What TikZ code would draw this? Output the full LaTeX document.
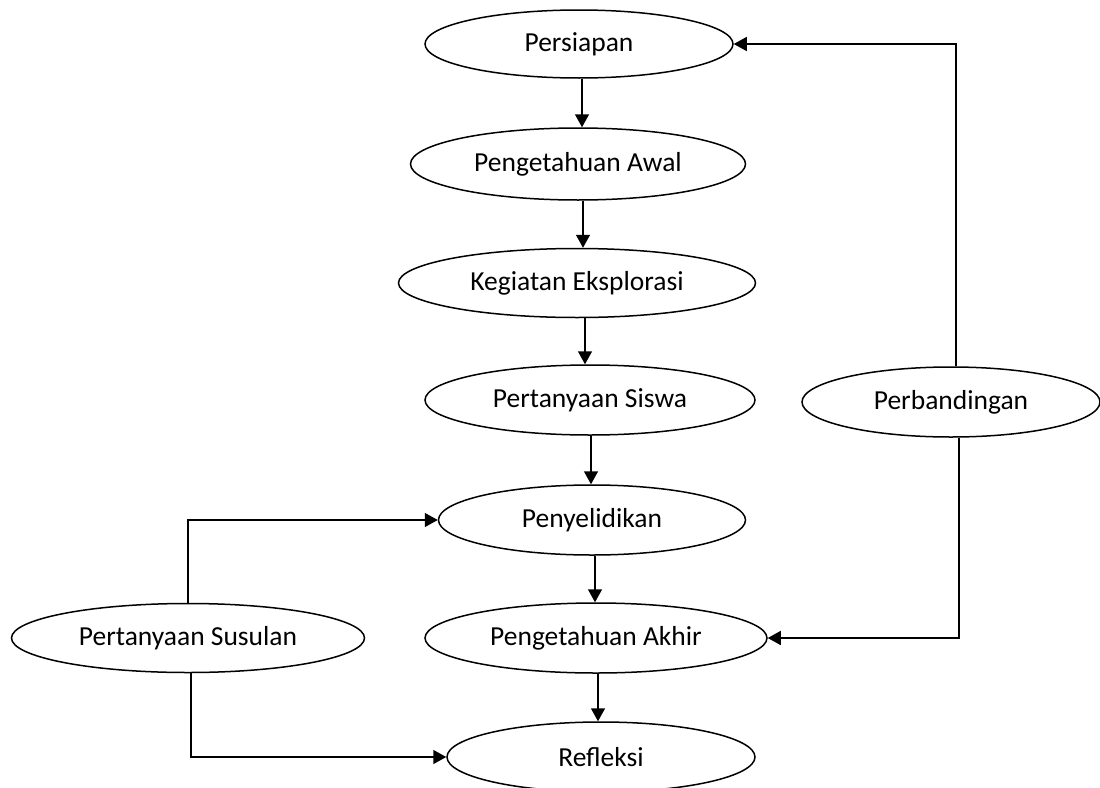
\documentclass[tikz,border=0pt]{standalone}
\usepackage{fontspec}
\setmainfont{Carlito}
\usetikzlibrary{shapes.geometric,arrows.meta}
\begin{document}
\begin{tikzpicture}[x=1pt,y=-1pt,
  oval/.style={ellipse,draw,line width=1.5pt,inner sep=0pt,minimum height=70pt,
    font=\fontsize{27.5}{33}\selectfont},
  arr/.style={line width=1.5pt,-{Triangle[length=13pt,width=14pt]}}]
\useasboundingbox (0,0) rectangle (1100,787);
\node[oval,minimum width=308pt,minimum height=68pt] (persiapan) at (579,44) {Persiapan};
\node[oval,minimum width=335pt,minimum height=72pt] (awal) at (578,164) {Pengetahuan Awal};
\node[oval,minimum width=357pt,minimum height=69pt] (kegiatan) at (577,283) {Kegiatan Eksplorasi};
\node[oval,minimum width=330pt] (siswa) at (590,400) {Pertanyaan Siswa};
\node[oval,minimum width=307pt] (penyelidikan) at (592,520) {Penyelidikan};
\node[oval,minimum width=342pt] (akhir) at (596,638) {Pengetahuan Akhir};
\node[oval,minimum width=308pt] (refleksi) at (601,757) {Refleksi};
\node[oval,minimum width=298pt] (perb) at (951,402) {Perbandingan};
\node[oval,minimum width=353pt,minimum height=69pt] (susulan) at (188,638) {Pertanyaan Susulan};

\draw[arr] ([xshift=3pt]persiapan.south) -- ([xshift=3pt]persiapan.south |- awal.north);
\draw[arr] ([xshift=5pt]awal.south) -- ([xshift=5pt]awal.south |- kegiatan.north);
\draw[arr] ([xshift=8pt]kegiatan.south) -- ([xshift=8pt]kegiatan.south |- siswa.north);
\draw[arr] ([xshift=1pt]siswa.south) -- ([xshift=1pt]siswa.south |- penyelidikan.north);
\draw[arr] ([xshift=3pt]penyelidikan.south) -- ([xshift=3pt]penyelidikan.south |- akhir.north);
\draw[arr] ([xshift=2pt]akhir.south) -- ([xshift=2pt]akhir.south |- refleksi.north);

\draw[arr] ([xshift=5pt]perb.north) |- (persiapan.east);
\draw[arr] ([xshift=8pt]perb.south) |- (akhir.east);
\draw[arr] (susulan.north) |- (penyelidikan.west);
\draw[arr] ([xshift=3pt]susulan.south) |- (refleksi.west);
\end{tikzpicture}
\end{document}
